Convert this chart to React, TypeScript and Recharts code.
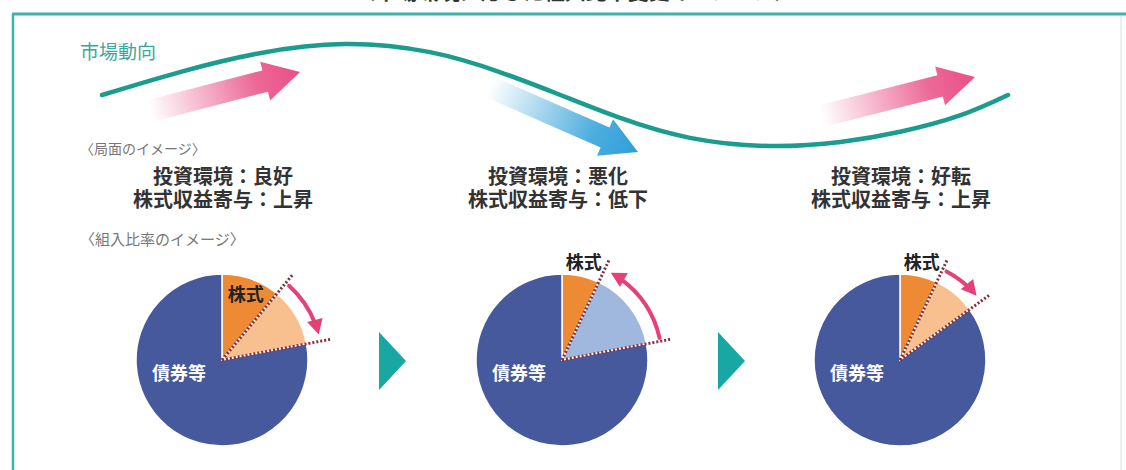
import React from 'react';
import { LineChart, Line, XAxis, YAxis, PieChart, Pie, Cell, Customized } from 'recharts';

const W = 1126;
const H = 470;
const FONT = '"Noto Sans CJK JP", "Noto Sans", sans-serif';

// 市場動向 (market trend) curve: phase (0-100) vs level (0-100)
const marketPhase = [0, 8.6, 17.4, 26.8, 36.2, 43.9, 50.6, 57.2, 64.9, 73.7, 81.5, 88.1, 94.7, 100];
const marketLevel = [50, 72.5, 91, 100, 92, 72.5, 50, 27.5, 8, 0, 4, 14, 30, 50];

// stages
const stageEnv = ['投資環境：良好', '投資環境：悪化', '投資環境：好転'];
const stageContrib = ['株式収益寄与：上昇', '株式収益寄与：低下', '株式収益寄与：上昇'];
const stockBase = [11, 7, 7];
const stockShift = [11, 15, 8];
const shiftDirection = ['up', 'down', 'up'];
const sliceNames = ['株式', '変化分', '債券等'];

const COLORS = {
  navy: '#46599c',
  orange: '#ef8a34',
  lightOrange: '#f9c08f',
  lightBlue: '#a0b7de',
  teal: '#1b9c8e',
  frame: '#3fb1ab',
  tri: '#19a7a3',
  pink: '#e5407a',
  dots: '#86303c',
};

const PIE_CX = [222, 562, 900];
const PIE_CY = 360;
const PIE_R = 86;

const marketData = marketPhase.map((p, i) => ({ phase: p, level: marketLevel[i] }));

const pieData = stockBase.map((b, i) => [
  { name: sliceNames[0], value: b },
  { name: sliceNames[1], value: stockShift[i] },
  { name: sliceNames[2], value: 100 - b - stockShift[i] },
]);

const sliceColor = (i: number, k: number) =>
  k === 0 ? COLORS.orange : k === 1 ? (shiftDirection[i] === 'up' ? COLORS.lightOrange : COLORS.lightBlue) : COLORS.navy;

const pt = (cx: number, cy: number, r: number, deg: number) => {
  const a = (deg * Math.PI) / 180;
  return [cx + r * Math.cos(a), cy - r * Math.sin(a)];
};

function GradArrow({ x1, y1, x2, y2, color, id }: any) {
  const L = Math.hypot(x2 - x1, y2 - y1);
  const ang = (Math.atan2(y2 - y1, x2 - x1) * 180) / Math.PI;
  const hw = 11;
  const hh = 20;
  const hl = 36;
  const pts = `0,${-hw} ${L - hl},${-hw} ${L - hl},${-hh} ${L},0 ${L - hl},${hh} ${L - hl},${hw} 0,${hw}`;
  return (
    <g transform={`translate(${x1},${y1}) rotate(${ang})`}>
      <defs>
        <linearGradient id={id} x1="0" y1="0" x2="1" y2="0">
          <stop offset="0" stopColor={color} stopOpacity="0" />
          <stop offset="0.7" stopColor={color} stopOpacity="0.85" />
          <stop offset="1" stopColor={color} stopOpacity="1" />
        </linearGradient>
      </defs>
      <polygon points={pts} fill={`url(#${id})`} />
    </g>
  );
}

const trendArrows = [
  { x1: 150, y1: 111, x2: 300, y2: 72, color: '#e94f86' },
  { x1: 490, y1: 87, x2: 638, y2: 152, color: '#2e9fd8' },
  { x1: 822, y1: 116, x2: 975, y2: 77, color: '#e94f86' },
];

function Decor() {
  return (
    <g>
      {/* frame */}
      <line x1={12} y1={14} x2={W} y2={14} stroke={COLORS.frame} strokeWidth={3} />
      <line x1={13} y1={14} x2={13} y2={H} stroke={COLORS.frame} strokeWidth={2.5} />
      <line x1={1121} y1={16} x2={1121} y2={H} stroke="#e3f3f2" strokeWidth={2} />
      {/* cut-off title */}
      <text x={575} y={-1} textAnchor="middle" fontFamily={FONT} fontWeight={700} fontSize={21} fill="#333">
        〈市場環境に応じた組入比率変更のイメージ〉
      </text>
      <text x={80} y={59} fontFamily={FONT} fontSize={19} fill="#3aa8a0">市場動向</text>
      <text x={80} y={154} fontFamily={FONT} fontSize={14} fill="#777">〈局面のイメージ〉</text>
      <text x={80} y={245} fontFamily={FONT} fontSize={15} fill="#777">〈組入比率のイメージ〉</text>
      {trendArrows.map((a, i) => (
        <GradArrow key={i} {...a} id={`ga${i}`} />
      ))}
      {stageEnv.map((t, i) => {
        const x = PIE_CX[i] + (i === 1 ? -4 : 1);
        return (
          <text key={i} x={x} y={184} textAnchor="middle" fontFamily={FONT} fontWeight={700} fontSize={20} fill="#333">
            <tspan x={x} y={184}>{t}</tspan>
            <tspan x={x} y={207}>{stageContrib[i]}</tspan>
          </text>
        );
      })}
      {[0, 1].map((i) => {
        const mx = (PIE_CX[i] + PIE_CX[i + 1]) / 2;
        return <polygon key={i} points={`${mx - 13},332 ${mx - 13},390 ${mx + 14},361`} fill={COLORS.tri} />;
      })}
    </g>
  );
}

const renderDecor = (i: number) => (props: any) => {
  if (props.index !== 0) return <g />;
  const cx = PIE_CX[i];
  const cy = PIE_CY;
  const a1 = 90 - 3.6 * stockBase[i];
  const a2 = 90 - 3.6 * (stockBase[i] + stockShift[i]);
  const lineR = 110;
  const p1 = pt(cx, cy, lineR, a1);
  const p2 = pt(cx, cy, lineR, a2);
  const arcR = 100;
  const up = shiftDirection[i] === 'up';
  const s = up ? a1 - 2.5 : a2 + 2;
  const e = up ? a2 + 4 : a1 - 4;
  const cw = e < s;
  const headLen = 15;
  const headDeg = (headLen * 0.8 * 180) / (Math.PI * arcR);
  const eLine = cw ? e + headDeg : e - headDeg;
  const ps = pt(cx, cy, arcR, s);
  const pe = pt(cx, cy, arcR, eLine);
  const tip = pt(cx, cy, arcR, e);
  const er = (e * Math.PI) / 180;
  const dir = cw ? [Math.sin(er), Math.cos(er)] : [-Math.sin(er), -Math.cos(er)];
  const nrm = [-dir[1], dir[0]];
  const base = [tip[0] - dir[0] * headLen, tip[1] - dir[1] * headLen];
  const hw = 8;
  const head = `${tip[0]},${tip[1]} ${base[0] + nrm[0] * hw},${base[1] + nrm[1] * hw} ${base[0] - nrm[0] * hw},${base[1] - nrm[1] * hw}`;
  const orangeDeg = 3.6 * stockBase[i];
  const mid = 90 - orangeDeg / 2;
  const inside = orangeDeg > 30;
  const lp = pt(cx, cy, inside ? 70 : 100, mid);
  return (
    <g>
      <line x1={cx} y1={cy} x2={p1[0]} y2={p1[1]} stroke={COLORS.dots} strokeWidth={3} strokeDasharray="2 2" />
      <line x1={cx} y1={cy} x2={p2[0]} y2={p2[1]} stroke={COLORS.dots} strokeWidth={3} strokeDasharray="2 2" />
      <path
        d={`M${ps[0]},${ps[1]} A${arcR},${arcR} 0 0 ${cw ? 1 : 0} ${pe[0]},${pe[1]}`}
        fill="none"
        stroke={COLORS.pink}
        strokeWidth={4}
        strokeLinecap="round"
      />
      <polygon points={head} fill={COLORS.pink} />
      <text x={lp[0]} y={lp[1] + 6.5} textAnchor="middle" fontFamily={FONT} fontWeight={700} fontSize={18} fill="#222">
        {sliceNames[0]}
      </text>
      <text x={cx - 43} y={cy + 13.5 + 6.5} textAnchor="middle" fontFamily={FONT} fontWeight={700} fontSize={18} fill="#fff">
        {sliceNames[2]}
      </text>
    </g>
  );
};

export default function App() {
  return (
    <div style={{ position: 'absolute', left: 0, top: 0, width: W, height: H, background: '#fff', overflow: 'hidden' }}>
      <div style={{ position: 'absolute', left: 0, top: 0 }}>
        <LineChart width={W} height={H} data={marketData} margin={{ top: 44, bottom: 324, left: 102, right: 118 }}>
          <XAxis dataKey="phase" type="number" domain={[0, 100]} hide />
          <YAxis type="number" domain={[0, 100]} hide />
          <Customized component={<Decor />} />
          <Line
            dataKey="level"
            type="natural"
            stroke={COLORS.teal}
            strokeWidth={4.5}
            dot={false}
            activeDot={false}
            isAnimationActive={false}
            strokeLinecap="round"
          />
        </LineChart>
      </div>
      <div style={{ position: 'absolute', left: 0, top: 0, pointerEvents: 'none' }}>
        <PieChart width={W} height={H} margin={{ top: 0, right: 0, bottom: 0, left: 0 }}>
          {pieData.map((d, i) => (
            <Pie
              key={i}
              data={d}
              dataKey="value"
              nameKey="name"
              cx={PIE_CX[i]}
              cy={PIE_CY}
              outerRadius={PIE_R}
              innerRadius={0}
              startAngle={90}
              endAngle={-270}
              stroke="#fff"
              strokeWidth={1.5}
              isAnimationActive={false}
              label={renderDecor(i)}
              labelLine={false}
            >
              {d.map((_, k) => (
                <Cell key={k} fill={sliceColor(i, k)} />
              ))}
            </Pie>
          ))}
        </PieChart>
      </div>
    </div>
  );
}
